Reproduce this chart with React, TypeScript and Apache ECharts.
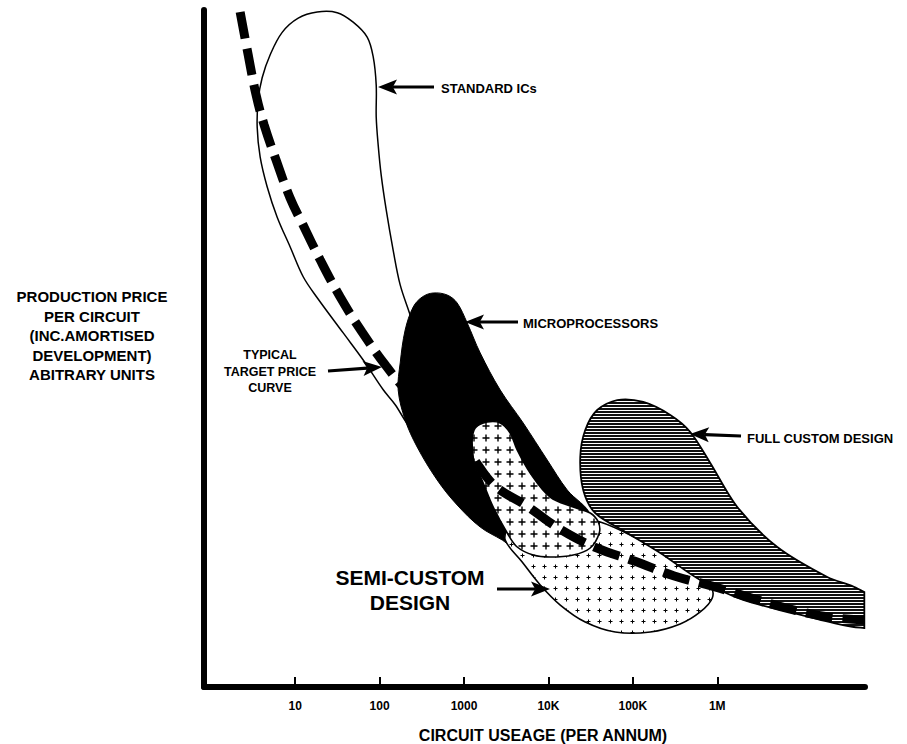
import React, { useEffect, useRef } from "react";
import * as echarts from "echarts";

// x: log10(circuit usage per annum), y: production price (arbitrary units 0..100)
const tickValues = [1, 2, 3, 4, 5, 6];
const tickLabels = ["10", "100", "1000", "10K", "100K", "1M"];

const targetCurve: [number, number][] = [
  [0.348, 99.7], [0.443, 93.4], [0.538, 87.4], [0.633, 83.0], [0.775, 77.8],
  [0.941, 72.2], [1.095, 68.2], [1.296, 63.1], [1.533, 57.6], [1.794, 52.4],
  [2.078, 47.4], [2.363, 43.1], [2.718, 38.7], [3.073, 34.3], [3.358, 29.8],
  [3.749, 26.7], [4.152, 23.2], [4.578, 20.5], [5.017, 18.6], [5.491, 16.4],
  [5.941, 14.9], [6.415, 13.1], [6.865, 11.5], [7.339, 10.3], [7.74, 9.9],
];

const standardICs: [number, number][] = [
  [1.261, 99.7], [1.498, 99.6], [1.687, 98.2], [1.853, 96.0], [1.924, 93.1],
  [1.96, 88.9], [1.96, 84.2], [1.983, 80.1], [2.019, 75.6], [2.078, 70.5],
  [2.161, 64.5], [2.244, 59.4], [2.363, 54.9], [2.6, 45.3], [2.54, 36.5],
  [2.363, 38.3], [2.185, 41.7], [2.043, 43.9], [1.806, 48.3], [1.569, 52.3],
  [1.261, 57.5], [1.095, 60.6], [0.941, 65.0], [0.787, 69.4], [0.668, 73.9],
  [0.585, 78.3], [0.55, 82.7], [0.562, 86.7], [0.609, 90.0], [0.704, 93.4],
  [0.846, 96.7], [1.036, 98.8],
];

const microprocessors: [number, number][] = [
  [2.635, 58.2], [2.801, 57.9], [2.919, 56.72], [3.038, 53.77], [3.192, 49.34],
  [3.429, 43.87], [3.701, 39.0], [3.986, 33.53], [4.223, 29.1], [4.495, 25.41],
  [4.377, 22.45], [3.962, 20.53], [3.547, 20.97], [3.453, 21.71], [3.192, 23.63],
  [2.919, 26.88], [2.682, 30.58], [2.445, 35.45], [2.303, 39.44], [2.22, 43.87],
  [2.244, 47.86], [2.303, 52.73], [2.398, 56.13], [2.505, 57.61],
];

const semiCustomUpper: [number, number][] = [
  [3.275, 39.14], [3.429, 39.0], [3.547, 37.52], [3.63, 35.01], [3.784, 31.61],
  [4.021, 28.06], [4.294, 26.59], [4.495, 25.7], [4.59, 24.37], [4.602, 22.75],
  [4.495, 20.53], [4.294, 19.5], [4.021, 19.2], [3.82, 19.5], [3.63, 20.68],
  [3.512, 22.75], [3.346, 26.59], [3.227, 30.13], [3.18, 31.4], [3.13, 32.3],
  [3.109, 33.97], [3.097, 36.48], [3.133, 38.26],
];

const semiCustomLower: [number, number][] = [
  [3.607, 26.14], [4.14, 25.41], [4.614, 24.37], [5.088, 21.71], [5.68, 18.02],
  [5.917, 15.07], [5.941, 13.15], [5.798, 11.08], [5.561, 9.31], [5.206, 8.12],
  [4.791, 8.12], [4.436, 9.6], [4.14, 12.11], [3.903, 15.07], [3.689, 18.46],
  [3.488, 21.71], [3.524, 23.93],
];

const fullCustom: [number, number][] = [
  [4.815, 42.39], [5.123, 42.1], [5.443, 40.18], [5.68, 37.67], [5.917, 33.09],
  [6.237, 26.59], [6.711, 20.68], [7.303, 16.25], [7.6, 14.9], [7.742, 14.03],
  [7.742, 14.03], [7.742, 8.71], [7.742, 8.71], [7.6, 8.9], [7.422, 9.31],
  [6.9, 10.93], [6.308, 12.85], [5.798, 15.8], [5.325, 19.79], [4.934, 22.75],
  [4.554, 25.7], [4.412, 29.1], [4.377, 33.97], [4.436, 37.96], [4.578, 40.92],
];

const FONT = '"Liberation Sans", Arial, Helvetica, sans-serif';

function makePattern(w: number, h: number, draw: (c: CanvasRenderingContext2D) => void) {
  const cv = document.createElement("canvas");
  cv.width = w;
  cv.height = h;
  const ctx = cv.getContext("2d")!;
  ctx.fillStyle = "#fff";
  ctx.fillRect(0, 0, w, h);
  draw(ctx);
  return { image: cv, repeat: "repeat", imageWidth: w, imageHeight: h } as any;
}

function shapeSeries(name: string, pts: [number, number][], style: any, z: number, smooth = 0.35) {
  return {
    type: "custom",
    name,
    z,
    silent: true,
    clip: false,
    coordinateSystem: "cartesian2d",
    encode: { x: 0, y: 1 },
    data: pts,
    renderItem: (params: any, api: any) => {
      if (params.dataIndex !== 0) return null;
      return {
        type: "polygon",
        shape: { points: pts.map((p) => api.coord(p)), smooth },
        style,
      };
    },
  };
}

function arrow(tail: number[], tip: number[], headLen = 19, headHalf = 7.5) {
  const dx = tip[0] - tail[0];
  const dy = tip[1] - tail[1];
  const L = Math.hypot(dx, dy);
  const ux = dx / L, uy = dy / L;
  const nx = -uy, ny = ux;
  const bx = tip[0] - ux * headLen, by = tip[1] - uy * headLen;
  const kx = tip[0] - ux * headLen * 0.78, ky = tip[1] - uy * headLen * 0.78;
  return [
    { type: "line", z: 100, silent: true, shape: { x1: tail[0], y1: tail[1], x2: kx, y2: ky }, style: { stroke: "#000", lineWidth: 3.2 } },
    {
      type: "polygon", z: 100, silent: true,
      shape: { points: [tip, [bx + nx * headHalf, by + ny * headHalf], [kx, ky], [bx - nx * headHalf, by - ny * headHalf]] },
      style: { fill: "#000" },
    },
  ];
}

function label(text: string, x: number, y: number, size: number, align = "left", lineHeight?: number, vAlign = "middle") {
  return {
    type: "text", z: 100, silent: true, x, y,
    style: {
      text, fill: "#000", font: `bold ${size}px ${FONT}`,
      textAlign: align, textVerticalAlign: vAlign, lineHeight: lineHeight ?? size * 1.2,
    },
  };
}

export default function App() {
  const ref = useRef<HTMLDivElement>(null);
  useEffect(() => {
    if (!ref.current) return;
    const chart = echarts.init(ref.current, null, { renderer: "svg" });

    const crossBig = makePattern(12, 12, (c) => {
      c.strokeStyle = "#000";
      c.lineWidth = 1.4;
      c.beginPath();
      c.moveTo(2.5, 6); c.lineTo(9.5, 6);
      c.moveTo(6, 2.5); c.lineTo(6, 9.5);
      c.stroke();
    });
    const crossSmall = makePattern(11, 11, (c) => {
      c.strokeStyle = "#000";
      c.lineWidth = 1;
      c.beginPath();
      c.moveTo(3.5, 5.5); c.lineTo(7.5, 5.5);
      c.moveTo(5.5, 3.5); c.lineTo(5.5, 7.5);
      c.stroke();
    });
    const hatch = makePattern(4, 3, (c) => {
      c.fillStyle = "#111";
      c.fillRect(0, 0, 4, 2);
    });

    const option: any = {
      animation: false,
      backgroundColor: "#fff",
      grid: { left: 204, right: 42, top: 10, bottom: 57, containLabel: false },
      xAxis: {
        type: "value",
        min: -0.08,
        max: 7.75,
        axisLine: { show: true, onZero: false, lineStyle: { color: "#000", width: 6 } },
        axisTick: { show: true, inside: true, length: 10, customValues: tickValues, lineStyle: { color: "#000", width: 2 } },
        axisLabel: {
          show: true,
          customValues: tickValues,
          formatter: (v: number) => tickLabels[Math.round(v) - 1] ?? "",
          color: "#000",
          fontWeight: "bold",
          fontSize: 12,
          fontFamily: FONT,
          margin: 13,
        },
        splitLine: { show: false },
      },
      yAxis: {
        type: "value",
        min: 0,
        max: 100,
        axisLine: { show: true, onZero: false, lineStyle: { color: "#000", width: 6 } },
        axisTick: { show: false },
        axisLabel: { show: false },
        splitLine: { show: false },
      },
      series: [
        shapeSeries("Standard ICs", standardICs, { fill: "#fff", stroke: "#000", lineWidth: 1.5 }, 1),
        shapeSeries("Microprocessors", microprocessors, { fill: "#000", stroke: "#000", lineWidth: 1 }, 2),
        shapeSeries("Semi-custom (lower)", semiCustomLower, { fill: crossSmall, stroke: "#000", lineWidth: 1.6 }, 3),
        shapeSeries("Semi-custom (upper)", semiCustomUpper, { fill: crossBig, stroke: "#000", lineWidth: 1.6 }, 4),
        shapeSeries("Full custom design", fullCustom, { fill: hatch, stroke: "#000", lineWidth: 1.8 }, 5, 0.3),
        {
          type: "line",
          name: "Typical target price curve",
          data: targetCurve,
          smooth: 0.4,
          symbol: "none",
          silent: true,
          z: 10,
          lineStyle: { color: "#000", width: 9, type: [27, 10], cap: "butt" },
        },
      ],
      graphic: [
        label("PRODUCTION PRICE\nPER CIRCUIT\n(INC.AMORTISED\nDEVELOPMENT)\nABITRARY UNITS", 92, 287, 15, "center", 19.5, "top"),
        label("CIRCUIT USEAGE (PER ANNUM)", 543, 735, 16, "center"),
        label("STANDARD ICs", 441, 88, 13),
        ...arrow([434, 87], [378, 87]),
        label("MICROPROCESSORS", 523, 323, 13),
        ...arrow([518, 322], [465, 322]),
        label("FULL CUSTOM DESIGN", 747, 438, 13),
        ...arrow([741, 436], [690, 434]),
        label("TYPICAL\nTARGET PRICE\nCURVE", 270, 347, 12.5, "center", 16.5, "top"),
        ...arrow([328, 371], [382, 367]),
        label("SEMI-CUSTOM\nDESIGN", 410, 565, 21, "center", 25, "top"),
        ...arrow([497, 589], [550, 589]),
      ],
    };
    chart.setOption(option);
    return () => chart.dispose();
  }, []);
  return (
    <div
      ref={ref}
      style={{ position: "fixed", left: 0, top: 0, width: 907, height: 744, background: "#fff" }}
    />
  );
}
